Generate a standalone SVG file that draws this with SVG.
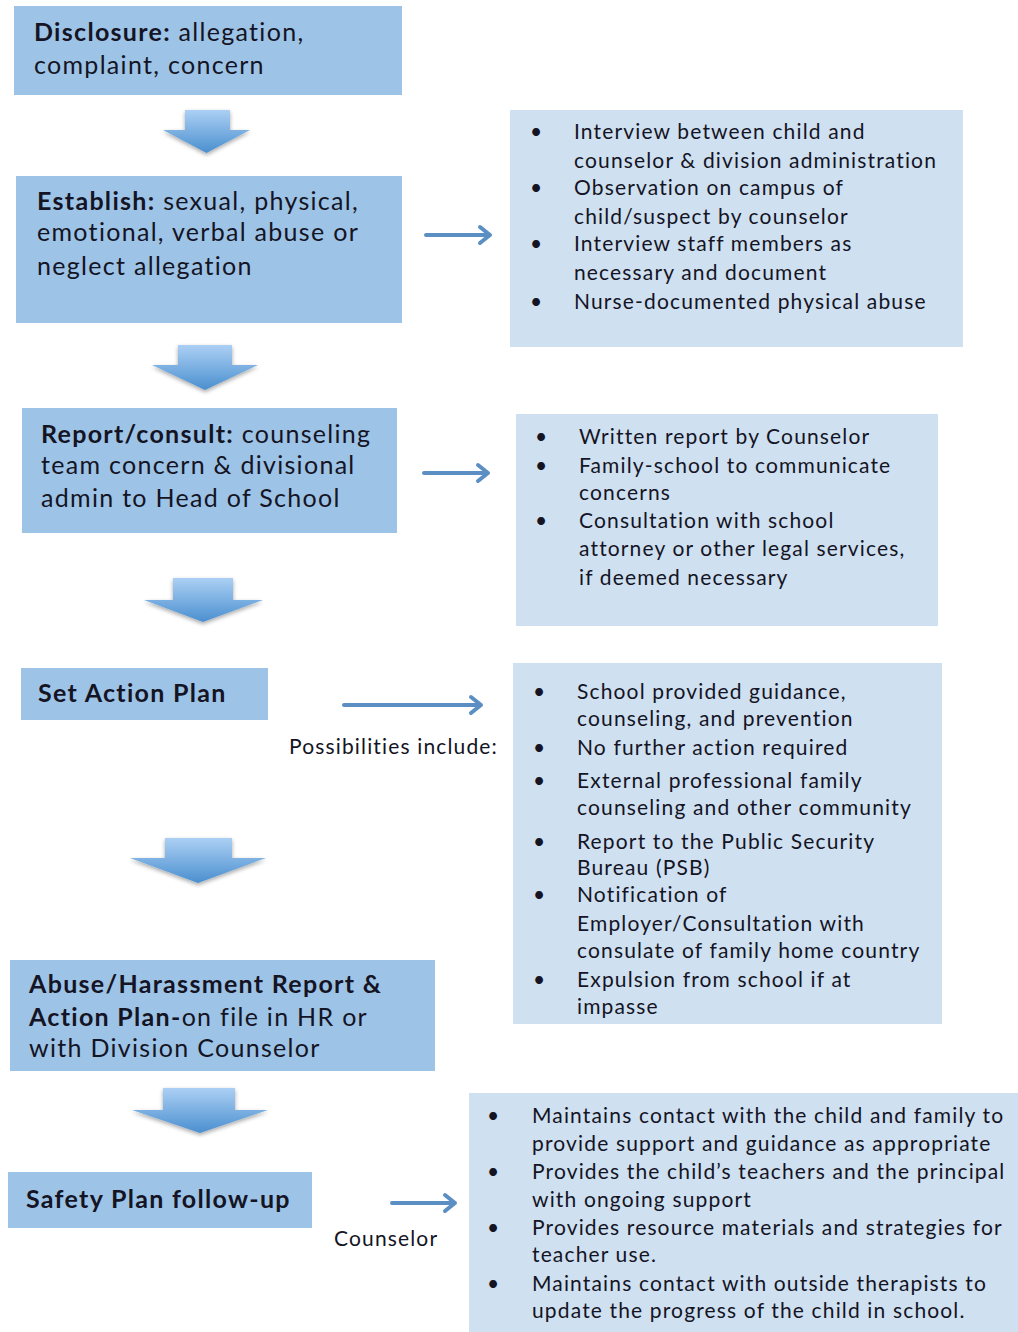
<svg xmlns="http://www.w3.org/2000/svg" width="1018" height="1332" viewBox="0 0 1018 1332">
<defs>
<linearGradient id="dg" x1="0" y1="0" x2="0" y2="1">
<stop offset="0" stop-color="#acd0f4"/>
<stop offset="1" stop-color="#4a8fcf"/>
</linearGradient>
<filter id="sh" x="-20%" y="-20%" width="140%" height="150%">
<feGaussianBlur in="SourceAlpha" stdDeviation="2"/>
<feOffset dy="2"/>
<feComponentTransfer><feFuncA type="linear" slope="0.35"/></feComponentTransfer>
<feMerge><feMergeNode/><feMergeNode in="SourceGraphic"/></feMerge>
</filter>
</defs>
<style>
.main{fill:#9dc3e6}
.side{fill:#cfe0f1}
text{font-family:Lato,"Open Sans",sans-serif;fill:#141424}
.t1{font-size:25px;letter-spacing:1.3px}
.b{font-weight:bold}
.t2{font-size:21px;letter-spacing:1.15px}
.h{fill:none;stroke:#5b8fc3;stroke-width:4;stroke-linecap:round;stroke-linejoin:round}
.down{fill:url(#dg);filter:url(#sh)}
</style>
<g id="connectors">
<path class="down" d="M185,110 H230 V130 H250 L206.5,153 L163,130 H185 Z"/>
<path class="down" d="M178,345 H232 V365 H258 L205,390 L152,365 H178 Z"/>
<path class="down" d="M173,578 H233 V600 H263 L203,622 L144,600 H173 Z"/>
<path class="down" d="M165,838 H232 V858 H266 L198,883 L130,858 H165 Z"/>
<path class="down" d="M163,1088 H235 V1110 H268 L200,1133 L132,1110 H163 Z"/>
<g>
<path class="h" d="M426,235 H490 M480,227 L490,235 L480,243"/>
<path class="h" d="M424,473 H488 M478,465 L488,473 L478,481"/>
<path class="h" d="M344,705 H481 M471,697 L481,705 L471,713"/>
<path class="h" d="M392,1203 H455 M445,1195 L455,1203 L445,1211"/>
</g>
</g>
<g id="n1">
<rect class="main" x="14" y="6" width="388" height="89"/>
<text class="t1" x="34" y="41"><tspan class="b">Disclosure:</tspan> allegation,</text>
<text class="t1" x="34" y="74">complaint, concern</text>
</g>
<g id="n2">
<rect class="main" x="16" y="176" width="386" height="147"/>
<text class="t1" x="37" y="210"><tspan class="b">Establish:</tspan> sexual, physical,</text>
<text class="t1" x="37" y="241">emotional, verbal abuse or</text>
<text class="t1" x="37" y="275">neglect allegation</text>
</g>
<g id="n3">
<rect class="main" x="22" y="408" width="375" height="125"/>
<text class="t1" x="41" y="443"><tspan class="b">Report/consult:</tspan> counseling</text>
<text class="t1" x="41" y="474">team concern &amp; divisional</text>
<text class="t1" x="41" y="507">admin to Head of School</text>
</g>
<g id="n4">
<rect class="main" x="21" y="668" width="247" height="52"/>
<text class="t1 b" x="38" y="702">Set Action Plan</text>
</g>
<g id="n5">
<rect class="main" x="10" y="960" width="425" height="111"/>
<text class="t1" x="29" y="993"><tspan class="b">Abuse/Harassment Report &amp;</tspan></text>
<text class="t1" x="29" y="1026"><tspan class="b">Action Plan-</tspan>on file in HR or</text>
<text class="t1" x="29" y="1057">with Division Counselor</text>
</g>
<g id="n6">
<rect class="main" x="8" y="1172" width="304" height="56"/>
<text class="t1 b" x="26" y="1208">Safety Plan follow-up</text>
</g>
<g id="s1">
<rect class="side" x="510" y="110" width="453" height="237"/>
<g class="t2">
<text x="530" y="139">•</text><text x="574" y="139">Interview between child and</text>
<text x="574" y="168">counselor &amp; division administration</text>
<text x="530" y="195">•</text><text x="574" y="195">Observation on campus of</text>
<text x="574" y="224">child/suspect by counselor</text>
<text x="530" y="251">•</text><text x="574" y="251">Interview staff members as</text>
<text x="574" y="280">necessary and document</text>
<text x="530" y="309">•</text><text x="574" y="309">Nurse-documented physical abuse</text>
</g>
</g>
<g id="s2">
<rect class="side" x="516" y="414" width="422" height="212"/>
<g class="t2">
<text x="535" y="444">•</text><text x="579" y="444">Written report by Counselor</text>
<text x="535" y="473">•</text><text x="579" y="473">Family-school to communicate</text>
<text x="579" y="500">concerns</text>
<text x="535" y="528">•</text><text x="579" y="528">Consultation with school</text>
<text x="579" y="556">attorney or other legal services,</text>
<text x="579" y="585">if deemed necessary</text>
</g>
</g>
<text class="t2" x="289" y="754">Possibilities include:</text>
<g id="s3">
<rect class="side" x="513" y="663" width="429" height="361"/>
<g class="t2">
<text x="533" y="699">•</text><text x="577" y="699">School provided guidance,</text>
<text x="577" y="726">counseling, and prevention</text>
<text x="533" y="755">•</text><text x="577" y="755">No further action required</text>
<text x="533" y="788">•</text><text x="577" y="788">External professional family</text>
<text x="577" y="815">counseling and other community</text>
<text x="533" y="849">•</text><text x="577" y="849">Report to the Public Security</text>
<text x="577" y="875">Bureau (PSB)</text>
<text x="533" y="902">•</text><text x="577" y="902">Notification of</text>
<text x="577" y="931">Employer/Consultation with</text>
<text x="577" y="958">consulate of family home country</text>
<text x="533" y="987">•</text><text x="577" y="987">Expulsion from school if at</text>
<text x="577" y="1014">impasse</text>
</g>
</g>
<text class="t2" x="334" y="1246">Counselor</text>
<g id="s4">
<rect class="side" x="469" y="1093" width="549" height="239"/>
<g class="t2">
<text x="487" y="1123">•</text><text x="532" y="1123">Maintains contact with the child and family to</text>
<text x="532" y="1151">provide support and guidance as appropriate</text>
<text x="487" y="1179">•</text><text x="532" y="1179">Provides the child’s teachers and the principal</text>
<text x="532" y="1207">with ongoing support</text>
<text x="487" y="1235">•</text><text x="532" y="1235">Provides resource materials and strategies for</text>
<text x="532" y="1262">teacher use.</text>
<text x="487" y="1291">•</text><text x="532" y="1291">Maintains contact with outside therapists to</text>
<text x="532" y="1318">update the progress of the child in school.</text>
</g>
</g>
</svg>
